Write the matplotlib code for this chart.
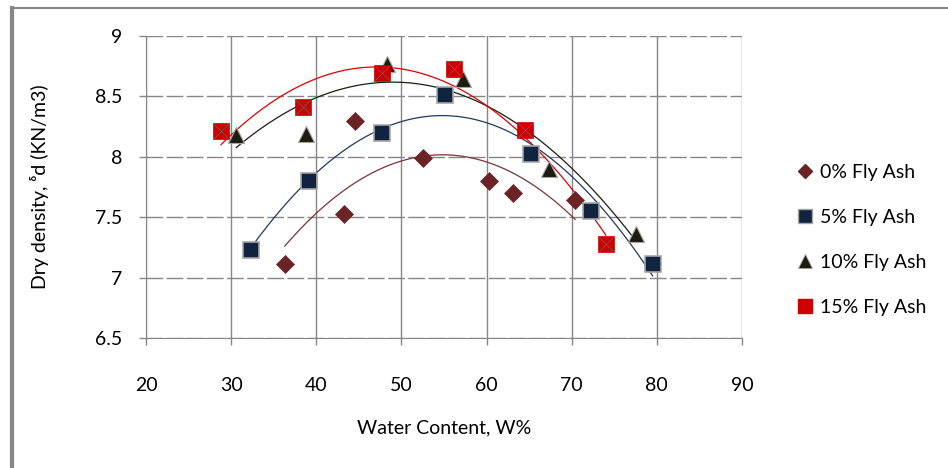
import numpy as np
import matplotlib
matplotlib.use("Agg")
from matplotlib import pyplot as plt
from matplotlib.lines import Line2D

plt.rcParams['font.family'] = ['Lato', 'DejaVu Sans']

# water content (%) and dry density (kN/m3)
w_0 = [36.3, 43.3, 44.5, 52.5, 60.3, 63.1, 70.4]
d_0 = [7.11, 7.53, 8.30, 7.99, 7.80, 7.70, 7.64]
w_5 = [32.3, 39.1, 47.7, 55.1, 65.2, 72.3, 79.5]
d_5 = [7.23, 7.80, 8.20, 8.51, 8.02, 7.55, 7.11]
w_10 = [30.6, 38.8, 48.3, 57.2, 67.3, 77.5]
d_10 = [8.18, 8.19, 8.77, 8.64, 7.90, 7.36]
w_15 = [28.8, 38.4, 47.7, 56.2, 64.5, 74.0]
d_15 = [8.21, 8.41, 8.69, 8.73, 8.22, 7.28]
labels = ['0% Fly Ash', '5% Fly Ash', '10% Fly Ash', '15% Fly Ash']

series = [
    (w_0, d_0, dict(marker='D', ms=9, mfc='#6b2326', mec='#6b2326', mew=0.5), '#7a3436'),
    (w_5, d_5, dict(marker='s', ms=11, mfc='#10243f', mec='#a6a6a6', mew=1.2), '#1f3a60'),
    (w_10, d_10, dict(marker='^', ms=11.5, mfc='#1e1c10', mec='#a6a6a6', mew=0.8), '#1e1c10'),
    (w_15, d_15, dict(marker='s', ms=11.5, mfc='#cc0000', mec='#cc0000', mew=0.5), '#e00000'),
]

fig = plt.figure(figsize=(9.48, 4.68), dpi=100)
ax = fig.add_axes([146/948, 1-338/468, (742-146)/948, (338-36)/468])

for (w, d, mk, lc), lab in zip(series, labels):
    # quadratic trendline like the spreadsheet
    c = np.polyfit(w, d, 2)
    xs = np.linspace(min(w), max(w), 200)
    ax.plot(xs, np.polyval(c, xs), color=lc, lw=0.9, zorder=2)
    ax.plot(w, d, ls='none', label=lab, zorder=3, **mk)
    if lab.startswith('15'):
        ax.plot(w, d, ls='none', marker='x', ms=9.5, mec='#8a5050', mew=0.6, zorder=4)

ax.set_xlim(20, 90)
ax.set_ylim(6.5, 9)
ax.set_xticks(range(20, 91, 10))
ax.set_yticks(np.arange(6.5, 9.01, 0.5))
ax.set_yticklabels(['6.5', '7', '7.5', '8', '8.5', '9'])
ax.grid(axis='x', color='#868686', lw=1.0)
ax.grid(axis='y', color='#868686', lw=1.0, ls=(0, (12, 2.5)))
ax.set_axisbelow(True)
for s in ['top', 'right']:
    ax.spines[s].set_visible(False)
for s in ['left', 'bottom']:
    ax.spines[s].set_color('#868686')
ax.tick_params(colors='#868686', labelcolor='black', labelsize=14, length=5, width=1)
ax.tick_params(axis='x', pad=23)
ax.tick_params(axis='y', pad=12)
ax.set_xlabel('Water Content, W%', fontsize=14, labelpad=18)
ax.set_ylabel('Dry density, ᵟd (KN/m3)', fontsize=14, labelpad=33)

handles = [
    Line2D([], [], ls='none', marker='D', ms=7, mfc='#6b2326', mec='#6b2326'),
    Line2D([], [], ls='none', marker='s', ms=10, mfc='#10243f', mec='#a6a6a6', mew=1),
    Line2D([], [], ls='none', marker='^', ms=10, mfc='#1e1c10', mec='#a6a6a6', mew=0.6),
    Line2D([], [], ls='none', marker='s', ms=10, mfc='#cc0000', mec='#cc0000'),
]
fig.legend(handles, labels, loc='center left', bbox_to_anchor=(776/948, 1-240/468),
           frameon=False, fontsize=14, labelspacing=1.45, handletextpad=0.15,
           handlelength=1.2)

# outer chart frame (only top and left edges visible)
fig.add_artist(Line2D([12/948, 1], [1-8/468, 1-8/468], color='#868686', lw=1.5))
fig.add_artist(Line2D([12/948, 12/948], [0, 1-8/468], color='#868686', lw=3))

fig.savefig('out.png', dpi=100)
